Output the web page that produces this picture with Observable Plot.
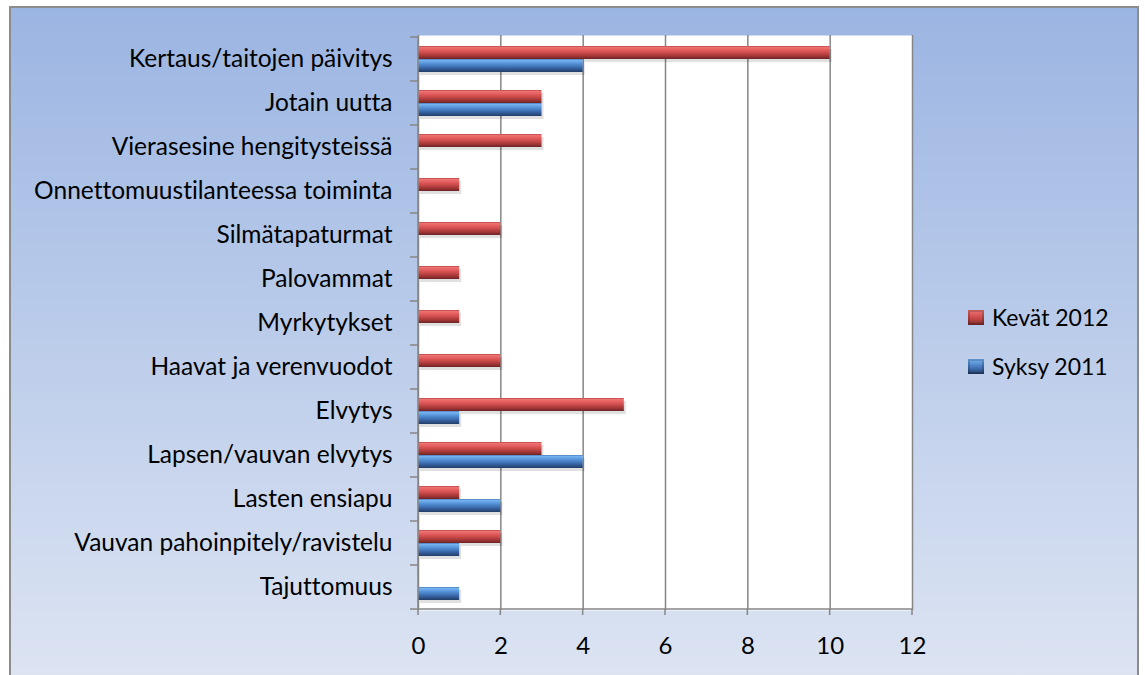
<!DOCTYPE html>
<html><head><meta charset="utf-8">
<script src="https://cdn.jsdelivr.net/npm/d3@7"></script>
<script src="https://cdn.jsdelivr.net/npm/@observablehq/plot@0.6"></script>
<style>
body{margin:0;width:1145px;height:675px;overflow:hidden;background:#fff;font-family:Lato,sans-serif;font-variant-ligatures:none;}
#frame{position:absolute;left:9px;top:6px;width:1130px;height:700px;box-sizing:border-box;border:2px solid #8c8c8c;background:linear-gradient(to bottom,#9bb5e2 0%,#dfe6f3 100%);}
#chart{position:absolute;left:0;top:0;}
#chart svg text{font-variant-ligatures:none;}
.lg{position:absolute;left:968px;height:16px;display:flex;align-items:center;font-size:23px;color:#000;white-space:nowrap;}
.sw{width:16px;height:15px;margin-right:8px;box-sizing:border-box;}
</style></head><body>
<div id="frame"></div>
<div id="chart"></div>
<div id="legend"></div>
<script>
const categories = [
  "Kertaus/taitojen päivitys",
  "Jotain uutta",
  "Vierasesine hengitysteissä",
  "Onnettomuustilanteessa toiminta",
  "Silmätapaturmat",
  "Palovammat",
  "Myrkytykset",
  "Haavat ja verenvuodot",
  "Elvytys",
  "Lapsen/vauvan elvytys",
  "Lasten ensiapu",
  "Vauvan pahoinpitely/ravistelu",
  "Tajuttomuus"
];
const kevat2012 = [10, 3, 3, 1, 2, 1, 1, 2, 5, 3, 1, 2, 0];
const syksy2011 = [4, 3, 0, 0, 0, 0, 0, 0, 1, 4, 2, 1, 1];
const seriesNames = ["Kevät 2012", "Syksy 2011"];
const xTicks = [0, 2, 4, 6, 8, 10, 12];

const redRows = categories.map((c, i) => ({category: c, value: kevat2012[i]})).filter(d => d.value > 0);
const blueRows = categories.map((c, i) => ({category: c, value: syksy2011[i]})).filter(d => d.value > 0);

function defsMark() {
  const defs = d3.create("svg:defs");
  const grads = {
    gRed: [[0,"#a83a3a"],[0.08,"#f07474"],[0.3,"#e45e5e"],[0.55,"#c84848"],[0.8,"#9c3434"],[1,"#6c2424"]],
    gBlue: [[0,"#3c6aa8"],[0.08,"#78b6f2"],[0.3,"#5c98de"],[0.55,"#4478bc"],[0.8,"#2f5690"],[1,"#223e66"]]
  };
  for (const [id, stops] of Object.entries(grads)) {
    const g = defs.append("linearGradient").attr("id", id).attr("x1", 0).attr("y1", 0).attr("x2", 0).attr("y2", 1);
    for (const [o, c] of stops) g.append("stop").attr("offset", o).attr("stop-color", c);
  }
  return defs.node();
}

function axisLines(index, scales, values, dimensions) {
  const x = scales.x, y = scales.y;
  const bw = y(categories[1]) - y(categories[0]);
  const x0 = x(0), x1 = x(12);
  const ys = categories.map(c => y(c)).concat([y(categories[categories.length - 1]) + bw]);
  const g = d3.create("svg:g").attr("stroke", "#868686").attr("stroke-width", 1.5).attr("fill", "none");
  for (const v of ys) g.append("line").attr("x1", x0 - 8).attr("x2", x0).attr("y1", v).attr("y2", v);
  const yb = ys[ys.length - 1];
  g.append("line").attr("x1", x0).attr("x2", x0).attr("y1", ys[0]).attr("y2", yb);
  g.append("line").attr("x1", x0).attr("x2", x1).attr("y1", yb).attr("y2", yb);
  for (const t of xTicks) g.append("line").attr("x1", x(t)).attr("x2", x(t)).attr("y1", yb).attr("y2", yb + 6);
  return g.node();
}

const chart = Plot.plot({
  width: 1145,
  height: 675,
  marginLeft: 418,
  marginRight: 233,
  marginTop: 35,
  marginBottom: 65,
  style: {background: "transparent", fontFamily: "Lato, sans-serif", fontSize: "24px", color: "#000"},
  x: {domain: [0, 12], axis: null},
  y: {type: "band", domain: categories, padding: 0, axis: null},
  marks: [
    defsMark,
    Plot.frame({fill: "white", stroke: "none"}),
    Plot.gridX({ticks: xTicks, stroke: "#868686", strokeOpacity: 1, strokeWidth: 1.5}),
    Plot.barX(redRows, {x: "value", y: "category", fill: "#000", fillOpacity: 0.12, insetTop: 9, insetBottom: 22, dx: 2, dy: 3}),
    Plot.barX(blueRows, {x: "value", y: "category", fill: "#000", fillOpacity: 0.12, insetTop: 22, insetBottom: 9, dx: 2, dy: 3}),
    Plot.barX(redRows, {x: "value", y: "category", fill: "url(#gRed)", insetTop: 9, insetBottom: 22}),
    Plot.barX(blueRows, {x: "value", y: "category", fill: "url(#gBlue)", insetTop: 22, insetBottom: 9}),
    axisLines,
    Plot.axisY({label: null, tickSize: 0, tickPadding: 26, fontSize: 24.5, fill: "#000"}),
    Plot.axisX({label: null, ticks: xTicks, tickSize: 0, tickPadding: 26, fontSize: 24, fill: "#000"})
  ]
});
document.getElementById("chart").appendChild(chart);

const legend = document.getElementById("legend");
const swatchBg = [
  "linear-gradient(to bottom,#f07474,#c84848 55%,#7a2a2a)",
  "linear-gradient(to bottom,#78b6f2,#4478bc 55%,#223e66)"
];
const legendTops = [309, 358];
seriesNames.forEach((name, i) => {
  const row = document.createElement("div");
  row.className = "lg";
  row.style.top = legendTops[i] + "px";
  const sw = document.createElement("div");
  sw.className = "sw";
  sw.style.background = swatchBg[i];
  sw.style.boxShadow = "inset 0 0 0 2px rgba(0,0,0,0.18)";
  const t = document.createElement("span");
  t.textContent = name;
  row.appendChild(sw);
  row.appendChild(t);
  legend.appendChild(row);
});
</script>
</body></html>
